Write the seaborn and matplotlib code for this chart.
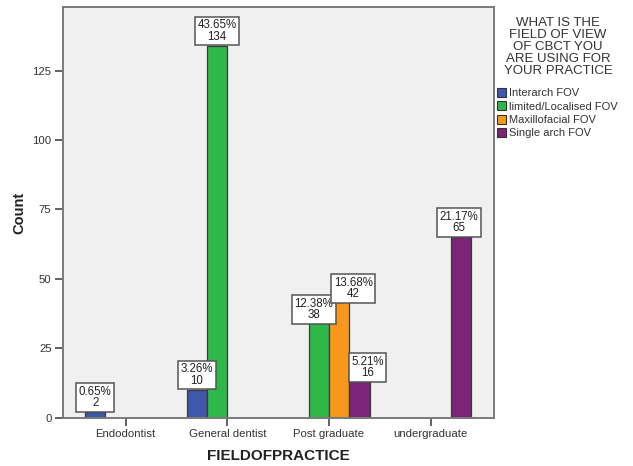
import matplotlib
matplotlib.use("Agg")
import matplotlib.pyplot as plt
import matplotlib.patches as mpatches
import seaborn as sns
import pandas as pd

# Survey responses: field of practice vs. CBCT field of view used
categories = ["Endodontist", "General dentist", "Post graduate", "undergraduate"]
fov_levels = ["Interarch FOV", "limited/Localised FOV", "Maxillofacial FOV", "Single arch FOV"]
fov_colors = ["#3E58AC", "#2EB848", "#F7981D", "#7B2478"]

practice = ["Endodontist", "General dentist", "General dentist",
            "Post graduate", "Post graduate", "Post graduate", "undergraduate"]
fov = ["Interarch FOV", "Interarch FOV", "limited/Localised FOV",
       "limited/Localised FOV", "Maxillofacial FOV", "Single arch FOV", "Single arch FOV"]
counts = [2, 10, 134, 38, 42, 16, 65]

legend_title = "WHAT IS THE\nFIELD OF VIEW\nOF CBCT YOU\nARE USING FOR\nYOUR PRACTICE"

df = pd.DataFrame({"FIELDOFPRACTICE": practice, "FOV": fov, "Count": counts})
total = sum(counts)

sns.set_theme(style="white")
plt.rcParams["font.family"] = ["Liberation Sans", "DejaVu Sans"]

fig = plt.figure(figsize=(6.33, 4.66), dpi=100)
ax = fig.add_axes([0.099, 0.1036, 0.681, 0.8806])
ax.set_facecolor("#F0F0F0")

sns.barplot(data=df, x="FIELDOFPRACTICE", y="Count", hue="FOV",
            order=categories, hue_order=fov_levels, palette=fov_colors,
            saturation=1, width=0.8, gap=0, edgecolor="#3a3a3a", linewidth=0.9,
            errorbar=None, legend=False, ax=ax)

ax.set_xlim(-0.62, 3.62)
ax.set_ylim(0, 147.8)
ax.set_yticks([0, 25, 50, 75, 100, 125])

# label nudges (pixels) so neighbouring boxes do not collide
nudges = {
    ("Post graduate", "limited/Localised FOV"): (-5, -12),
    ("Post graduate", "Maxillofacial FOV"): (14, -2),
    ("Post graduate", "Single arch FOV"): (8, -9),
    ("undergraduate", "Single arch FOV"): (-2, 0),
}

for level, container in zip(fov_levels, ax.containers):
    for bar in container:
        h = bar.get_height()
        if not h or h != h:
            continue
        xc = bar.get_x() + bar.get_width() / 2
        cat = categories[int(round(xc))]
        dx, dy = nudges.get((cat, level), (0, 0))
        ax.annotate(f"{h / total * 100:.2f}%\n{int(h)}", xy=(xc, h),
                    xytext=(dx, dy + 3), textcoords="offset pixels",
                    ha="center", va="bottom", fontsize=8.3, linespacing=0.95,
                    color="#222222", zorder=5,
                    bbox=dict(boxstyle="square,pad=0.22", fc="white",
                              ec="#555555", lw=1.1))

for side in ["left", "right", "top", "bottom"]:
    ax.spines[side].set_visible(True)
    ax.spines[side].set_color("#7a7a7a")
    ax.spines[side].set_linewidth(1.4)

ax.tick_params(axis="both", which="major", direction="out", length=6,
               width=1.3, color="#555555", labelsize=8.2, labelcolor="#333333",
               left=True, bottom=True, pad=2)

ax.set_xlabel("FIELDOFPRACTICE", fontsize=11, fontweight="bold",
              color="#222222", labelpad=7)
ax.set_ylabel("Count", fontsize=10.5, fontweight="bold", color="#222222")
ax.yaxis.set_label_coords(-0.085, 0.5)

# legend heading, centred over the legend entries
fig.text(558 / 633, 1 - 17 / 466, legend_title, ha="center", va="top",
         fontsize=9.5, linespacing=1.0, color="#333333",
         multialignment="center")

handles = [mpatches.Patch(facecolor=c, edgecolor="#333333", linewidth=0.8)
           for c in fov_colors]
leg = fig.legend(handles, fov_levels,
                 loc="upper left", bbox_to_anchor=(0.785, 1 - 88 / 466),
                 frameon=False, fontsize=8,
                 handlelength=0.85, handleheight=0.85, handletextpad=0.25,
                 labelspacing=0.28, borderpad=0, borderaxespad=0)
for t in leg.get_texts():
    t.set_color("#333333")

fig.savefig("out.png", dpi=100)
